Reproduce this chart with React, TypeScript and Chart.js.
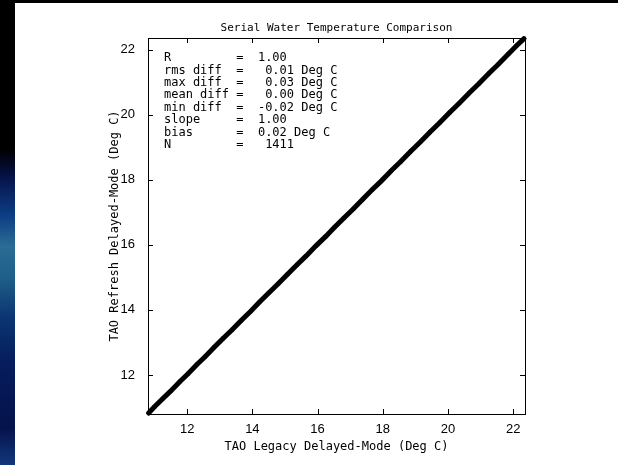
import React, { useEffect, useRef } from "react";
import { Chart, registerables } from "chart.js";

Chart.register(...registerables);

const chartTitle = "Serial Water Temperature Comparison";
const xAxisTitle = "TAO Legacy Delayed-Mode (Deg C)";
const yAxisTitle = "TAO Refresh Delayed-Mode (Deg C)";

const xTickValues = [12, 14, 16, 18, 20, 22];
const yTickValues = [12, 14, 16, 18, 20, 22];
const axisMin = 10.8;
const axisMax = 22.36;

const legacyTemps = [
  10.82, 11.0, 11.25, 11.5, 11.78, 12.02, 12.3, 12.55, 12.83, 13.1, 13.38, 13.65,
  13.95, 14.22, 14.5, 14.8, 15.08, 15.37, 15.65, 15.95, 16.25, 16.52, 16.8, 17.1,
  17.4, 17.68, 17.95, 18.25, 18.55, 18.85, 19.15, 19.45, 19.75, 20.05, 20.35,
  20.65, 20.95, 21.25, 21.55, 21.85, 22.1, 22.33,
];
const refreshTemps = [
  10.83, 11.02, 11.27, 11.51, 11.8, 12.03, 12.32, 12.56, 12.85, 13.12, 13.39, 13.67,
  13.96, 14.24, 14.52, 14.81, 15.1, 15.39, 15.66, 15.97, 16.26, 16.54, 16.82, 17.11,
  17.42, 17.7, 17.96, 18.27, 18.56, 18.87, 19.16, 19.47, 19.76, 20.07, 20.36,
  20.67, 20.96, 21.27, 21.56, 21.87, 22.12, 22.34,
];

const statLabels = ["R", "rms diff", "max diff", "mean diff", "min diff", "slope", "bias", "N"];
const statValues = ["1.00", " 0.01 Deg C", " 0.03 Deg C", " 0.00 Deg C", "-0.02 Deg C", "1.00", "0.02 Deg C", " 1411"];

const MONO = "'DejaVu Sans Mono', 'Liberation Mono', monospace";
const SANS = "'Liberation Sans', Arial, sans-serif";

const framePlugin = {
  id: "framePlugin",
  afterDraw(chart: any) {
    const { ctx, chartArea } = chart;
    const { left, right, top, bottom } = chartArea;
    const xs = chart.scales.x;
    const ys = chart.scales.y;
    ctx.save();
    ctx.strokeStyle = "#000";
    ctx.lineWidth = 1;
    ctx.strokeRect(left + 0.5, top + 0.5, right - left, bottom - top);
    const tl = 5;
    ctx.beginPath();
    xs.ticks.forEach((t: any) => {
      const px = Math.round(xs.getPixelForValue(t.value)) + 0.5;
      ctx.moveTo(px, bottom);
      ctx.lineTo(px, bottom - tl);
      ctx.moveTo(px, top);
      ctx.lineTo(px, top + tl);
    });
    ys.ticks.forEach((t: any) => {
      const py = Math.round(ys.getPixelForValue(t.value)) + 0.5;
      ctx.moveTo(left, py);
      ctx.lineTo(left + tl, py);
      ctx.moveTo(right, py);
      ctx.lineTo(right - tl, py);
    });
    ctx.stroke();

    // title
    ctx.fillStyle = "#000";
    ctx.font = `11px ${MONO}`;
    ctx.textAlign = "center";
    ctx.textBaseline = "middle";
    ctx.fillText(chartTitle, (left + right) / 2, top - 10);

    // stats box
    ctx.font = `12px ${MONO}`;
    ctx.textAlign = "left";
    statLabels.forEach((lab, i) => {
      const line = lab.padEnd(10, " ") + "=  " + statValues[i];
      ctx.fillText(line, left + 16, top + 20 + i * 12.4);
    });
    ctx.restore();
  },
};

export default function App() {
  const ref = useRef<HTMLCanvasElement>(null);
  useEffect(() => {
    if (!ref.current) return;
    const points = legacyTemps.map((x, i) => ({ x, y: refreshTemps[i] }));
    const chart = new Chart(ref.current, {
      type: "scatter",
      data: {
        datasets: [
          {
            data: points,
            showLine: true,
            borderColor: "#000",
            backgroundColor: "#000",
            borderWidth: 5,
            borderCapStyle: "round",
            pointRadius: 2.2,
            pointBorderWidth: 0,
            pointHoverRadius: 2.2,
            clip: false as any,
          },
        ],
      },
      options: {
        animation: false,
        responsive: false,
        layout: { padding: { left: 83, right: 93, top: 35, bottom: 6 } },
        plugins: { legend: { display: false }, tooltip: { enabled: false }, title: { display: false } },
        scales: {
          x: {
            type: "linear",
            min: axisMin,
            max: axisMax,
            grid: { display: false },
            border: { display: false },
            afterFit: (s: any) => { s.height = 45; },
            afterBuildTicks: (s: any) => { s.ticks = xTickValues.map((v) => ({ value: v })); },
            ticks: { color: "#000", font: { family: SANS, size: 13 }, padding: 0, maxRotation: 0, callback: (v: any) => String(v) },
            title: { display: true, text: xAxisTitle, color: "#000", font: { family: MONO, size: 12 }, padding: { top: 0, bottom: 5 } },
          },
          y: {
            type: "linear",
            min: axisMin,
            max: axisMax,
            grid: { display: false },
            border: { display: false },
            afterFit: (s: any) => { s.width = 50; },
            afterBuildTicks: (s: any) => { s.ticks = yTickValues.map((v) => ({ value: v })); },
            ticks: { color: "#000", font: { family: SANS, size: 13 }, padding: 5, callback: (v: any) => String(v) },
            title: { display: true, text: yAxisTitle, color: "#000", font: { family: MONO, size: 12 }, padding: { top: 10, bottom: 0 } },
          },
        },
      },
      plugins: [framePlugin],
    });
    return () => chart.destroy();
  }, []);

  return (
    <div style={{ position: "fixed", left: 0, top: 0, width: 618, height: 465, background: "#000", overflow: "hidden" }}>
      <div
        style={{
          position: "absolute", left: 0, top: 0, width: 15, height: 465,
          background: "linear-gradient(to bottom, #000 0%, #000 32%, #061248 38%, #0c3c82 46%, #2a6c96 53%, #1e5e88 60%, #0b3672 68%, #061c5c 78%, #05134c 92%, #12377a 100%)",
        }}
      />
      <div style={{ position: "absolute", left: 15, top: 3, width: 603, height: 462, background: "#fff" }}>
        <canvas ref={ref} width={603} height={462} style={{ display: "block", width: 603, height: 462 }} />
      </div>
    </div>
  );
}
